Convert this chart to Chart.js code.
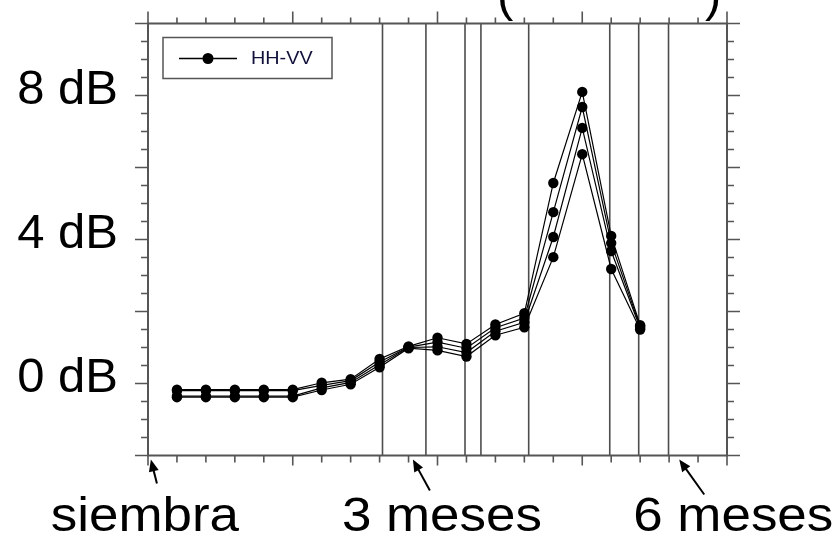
<!DOCTYPE html>
<html><head><meta charset="utf-8">
<script src="https://cdn.jsdelivr.net/npm/chart.js@4.4.1/dist/chart.umd.min.js"></script>
<style>html,body{margin:0;padding:0;background:#fff;overflow:hidden}#wrap{width:837px;height:537px;position:relative}</style>
</head><body><div id="wrap"><canvas id="c" width="837" height="537"></canvas></div>
<script>
// ---- data ----
const xValues  = [1, 2, 3, 4, 5, 6, 7, 8, 9, 10, 11, 12, 13, 14, 15, 16, 17];
const seriesA  = [-0.17, -0.17, -0.17, -0.17, -0.17, 0.02, 0.12, 0.68, 1.03, 1.27, 1.10, 1.64, 1.95, 5.57, 8.10, 4.10, 1.62];
const seriesB  = [-0.20, -0.20, -0.20, -0.20, -0.20, -0.05, 0.08, 0.60, 1.01, 1.15, 0.98, 1.55, 1.82, 4.76, 7.68, 3.90, 1.58];
const seriesC  = [-0.35, -0.35, -0.35, -0.35, -0.35, -0.12, 0.03, 0.52, 1.00, 1.02, 0.86, 1.45, 1.70, 4.07, 7.10, 3.68, 1.54];
const seriesD  = [-0.38, -0.38, -0.38, -0.38, -0.38, -0.18, -0.02, 0.45, 0.98, 0.92, 0.75, 1.34, 1.56, 3.51, 6.37, 3.18, 1.50];
const yTickLabels = [0, 4, 8];
const acquisitionDates = [8.1, 9.6, 10.95, 11.5, 13.15, 15.95, 16.95, 17.98];
const annotationLabels = ['siembra', '3 meses', '6 meses'];
const annotationX = [0.1, 9.15, 18.35];
const legendLabel = 'HH-VV';

// ---- styling ----
const FONT = '"Liberation Sans", Arial, sans-serif';
const AXIS = '#555';
const annotationStyle = [
  {tail: [6, 24],  textDx: -6},
  {tail: [17, 31], textDx: 29},
  {tail: [25, 35], textDx: 54}
];

function arrow(ctx, x0, y0, x1, y1) {
  const ang = Math.atan2(y1 - y0, x1 - x0), L = 12, W = 5;
  const c = Math.cos(ang), s = Math.sin(ang);
  ctx.beginPath(); ctx.moveTo(x0, y0); ctx.lineTo(x1 - L * 0.7 * c, y1 - L * 0.7 * s); ctx.stroke();
  ctx.beginPath(); ctx.moveTo(x1, y1);
  ctx.lineTo(x1 - L * c + W * s, y1 - L * s - W * c);
  ctx.lineTo(x1 - L * c - W * s, y1 - L * s + W * c);
  ctx.closePath(); ctx.fill();
}

const decor = {
  id: 'decor',
  beforeDatasetsDraw(chart) {
    const {ctx, chartArea: a, scales: {x}} = chart;
    ctx.save();
    ctx.strokeStyle = '#4d4d4d'; ctx.lineWidth = 1.6;
    acquisitionDates.forEach(d => {
      const px = x.getPixelForValue(d);
      ctx.beginPath(); ctx.moveTo(px, a.top); ctx.lineTo(px, a.bottom); ctx.stroke();
    });
    ctx.restore();
  },
  afterDraw(chart) {
    const {ctx, chartArea: a, scales: {x, y}} = chart;
    ctx.save();
    // frame
    ctx.strokeStyle = AXIS; ctx.lineWidth = 2;
    ctx.strokeRect(a.left, a.top, a.right - a.left, a.bottom - a.top);
    // ticks
    ctx.lineWidth = 1.6;
    ctx.beginPath();
    for (let v = -2; v <= 10.001; v += 0.5) {
      const major = Math.abs(v / 2 - Math.round(v / 2)) < 1e-6;
      const len = major ? 13 : 7, py = y.getPixelForValue(v);
      ctx.moveTo(a.left, py); ctx.lineTo(a.left - len, py);
      ctx.moveTo(a.right, py); ctx.lineTo(a.right + len, py);
    }
    for (let v = 0; v <= 20; v += 1) {
      const major = v % 5 === 0, px = x.getPixelForValue(v);
      ctx.moveTo(px, a.top); ctx.lineTo(px, a.top - (major ? 12 : 6));
      ctx.moveTo(px, a.bottom); ctx.lineTo(px, a.bottom + (major ? 10 : 7));
    }
    ctx.stroke();
    // legend
    const lx = a.left + 15, ly = a.top + 14;
    ctx.strokeStyle = '#555'; ctx.lineWidth = 1.5;
    ctx.strokeRect(lx, ly, 169, 41);
    ctx.strokeStyle = '#000'; ctx.lineWidth = 1.3;
    ctx.beginPath(); ctx.moveTo(lx + 16, ly + 21); ctx.lineTo(lx + 74, ly + 21); ctx.stroke();
    ctx.fillStyle = '#000';
    ctx.beginPath(); ctx.arc(lx + 45, ly + 21, 5.5, 0, Math.PI * 2); ctx.fill();
    ctx.fillStyle = '#10103a'; ctx.font = `18px ${FONT}`; ctx.textBaseline = 'middle'; ctx.textAlign = 'left';
    ctx.save(); ctx.translate(lx + 88, ly + 22); ctx.scale(1.1, 1); ctx.fillText(legendLabel, 0, 0); ctx.restore();
    // cropped title parentheses
    ctx.fillStyle = '#000'; ctx.font = `49px ${FONT}`; ctx.textBaseline = 'alphabetic';
    ctx.fillText('(', 497, 11); ctx.fillText(')', 705, 11);
    // bottom annotations
    ctx.strokeStyle = '#000'; ctx.lineWidth = 2; ctx.fillStyle = '#000';
    annotationLabels.forEach((lab, i) => {
      const tx = x.getPixelForValue(annotationX[i]), ty = a.bottom + 4;
      const st = annotationStyle[i];
      arrow(ctx, tx + st.tail[0], ty + st.tail[1], tx, ty);
      ctx.save(); ctx.translate(tx + st.textDx, 531); ctx.scale(1.08, 1);
      ctx.font = `49px ${FONT}`; ctx.textAlign = 'center'; ctx.textBaseline = 'alphabetic';
      ctx.fillText(lab, 0, 0); ctx.restore();
    });
    ctx.restore();
  }
};

const mk = (vals) => ({
  data: xValues.map((xv, i) => ({x: xv, y: vals[i]})),
  borderColor: '#000', borderWidth: 1.2, backgroundColor: '#000',
  pointRadius: 5.2, pointBackgroundColor: '#000', pointBorderColor: '#000', pointBorderWidth: 0,
  tension: 0
});

new Chart(document.getElementById('c'), {
  type: 'line',
  data: {datasets: [mk(seriesA), mk(seriesB), mk(seriesC), mk(seriesD)]},
  options: {
    responsive: false, animation: false, devicePixelRatio: 1,
    layout: {padding: {left: 0, right: 110, top: 23.5, bottom: 81.5}},
    plugins: {legend: {display: false}, tooltip: {enabled: false}},
    events: [],
    scales: {
      x: {type: 'linear', min: 0, max: 20, display: false},
      y: {
        type: 'linear', min: -2, max: 10,
        grid: {display: true, drawOnChartArea: false, drawTicks: false, color: 'transparent'},
        border: {display: false},
        ticks: {
          padding: 30, labelOffset: -5, color: '#000',
          font: {family: FONT, size: 49},
          callback: v => v + ' dB'
        },
        afterBuildTicks: s => { s.ticks = yTickLabels.map(v => ({value: v})); },
        afterFit: s => { s.width = 148; s.paddingTop = 0; s.paddingBottom = 0; }
      }
    }
  },
  plugins: [decor]
});
</script>
</body></html>
